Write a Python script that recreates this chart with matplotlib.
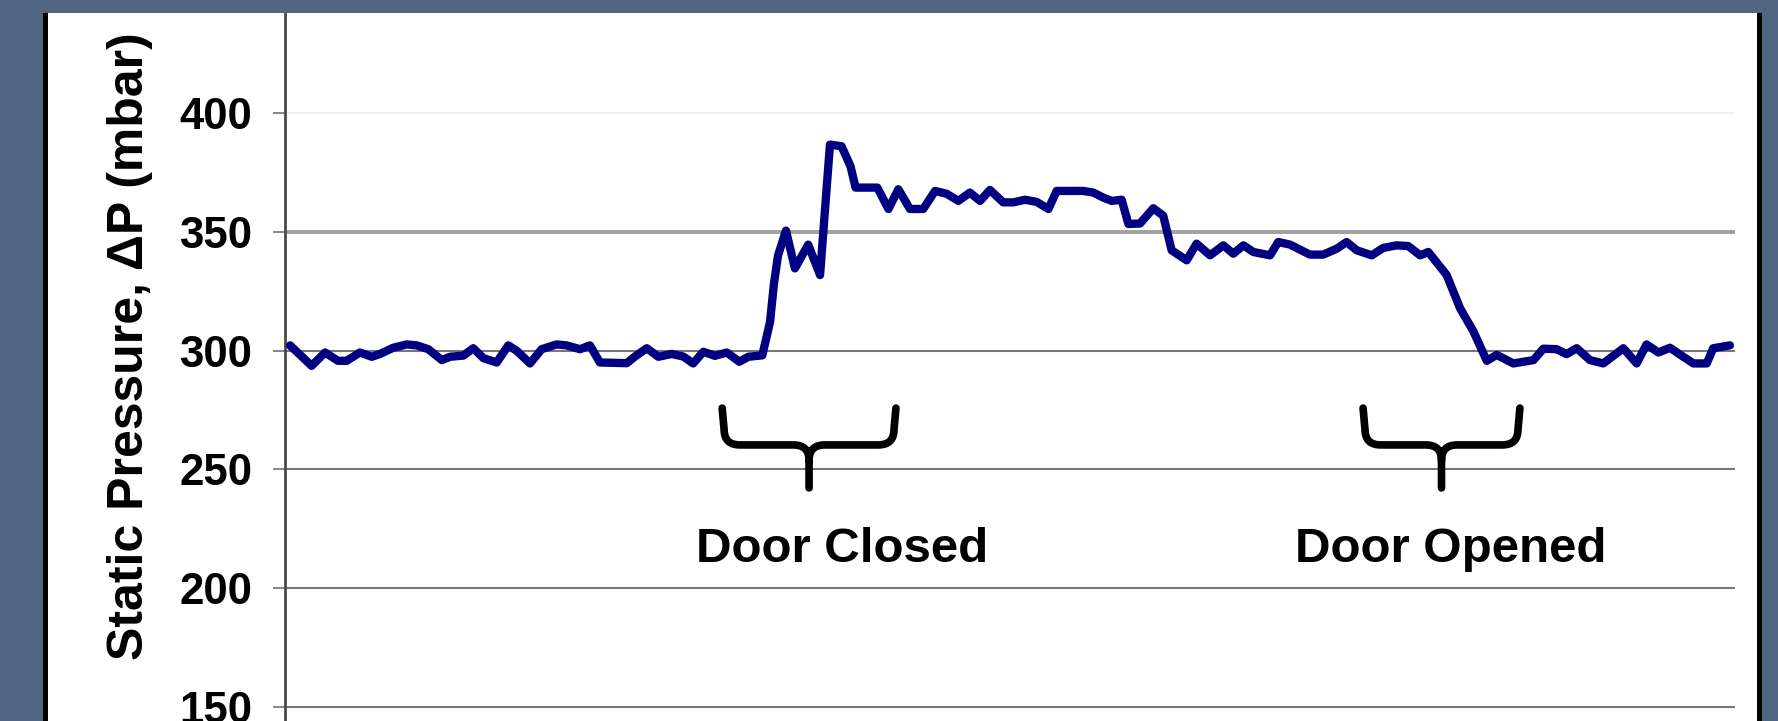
import matplotlib.pyplot as plt
from matplotlib.patches import Rectangle, PathPatch
from matplotlib.path import Path

plt.rcParams['font.family'] = ['Liberation Sans', 'DejaVu Sans']
plt.rcParams['font.weight'] = 'bold'

# time (s) and static pressure (mbar)
time_s = [2.1, 11.0, 16.6, 21.9, 25.5, 31.0, 35.9, 39.3, 44.8, 50.4, 54.5, 59.3,
          64.9, 68.3, 73.8, 77.9, 82.1, 87.6, 92.4, 95.9, 101.4, 106.2, 112.4,
          116.5, 122.1, 126.2, 130.3, 141.4, 144.8, 149.7, 154.5, 160.0, 164.8,
          168.9, 173.1, 177.9, 182.8, 188.0, 191.7, 197.5, 200.7, 202.3, 204.0,
          207.3, 211.0, 216.5, 221.4, 225.5, 230.3, 234.0, 236.1, 245.1, 249.7,
          253.8, 258.6, 264.1, 269.0, 273.8, 278.6, 283.4, 287.6, 291.7, 297.2,
          301.4, 306.2, 311.0, 315.9, 319.3, 330.3, 334.5, 338.6, 342.1, 346.2,
          349.0, 353.8, 359.3, 363.4, 366.9, 373.1, 377.2, 382.8, 388.3, 392.4,
          396.6, 400.7, 407.6, 411.0, 415.9, 424.1, 429.6, 435.2, 439.3, 443.5,
          449.7, 454.4, 460.0, 464.8, 469.7, 473.1, 480.7, 486.2, 491.7, 497.3,
          501.4, 508.3, 516.6, 520.7, 526.2, 530.3, 534.5, 540.0, 545.5, 553.8,
          559.3, 563.4, 568.3, 573.1, 578.6, 582.8, 588.3, 591.0, 597.9]
pressure_mbar = [302.2, 293.6, 299.2, 295.7, 295.7, 299.2, 297.4, 298.6, 301.2,
                 302.6, 302.2, 300.6, 296.0, 297.4, 297.9, 301.0, 296.8, 295.0,
                 302.2, 299.9, 294.6, 300.6, 302.6, 302.2, 300.6, 302.2, 295.0,
                 294.7, 297.5, 301.0, 297.4, 298.6, 297.5, 294.6, 299.5, 297.8,
                 299.2, 295.3, 297.4, 298.0, 312.0, 328.0, 340.0, 350.5, 334.6,
                 344.6, 331.8, 386.7, 386.0, 377.6, 368.6, 368.6, 359.6, 367.9,
                 359.6, 359.6, 367.2, 366.0, 363.0, 366.5, 363.0, 367.6, 362.4,
                 362.4, 363.5, 362.6, 359.6, 367.2, 367.2, 366.5, 364.4, 363.0,
                 363.5, 353.3, 353.5, 359.9, 356.8, 342.2, 338.0, 345.0, 340.1,
                 344.3, 340.8, 344.3, 341.5, 340.1, 345.7, 344.6, 340.4, 340.4,
                 342.9, 345.7, 342.2, 340.1, 343.2, 344.3, 344.0, 340.1, 341.5,
                 331.8, 317.9, 308.2, 295.7, 298.2, 294.6, 296.0, 300.8, 300.6,
                 298.5, 301.0, 296.0, 294.6, 301.0, 294.6, 302.6, 299.2, 301.2,
                 297.4, 294.6, 294.6, 301.0, 302.2]

y_ticks = [100, 150, 200, 250, 300, 350, 400, 450]

events = ["Door Closed", "Door Opened"]
brace_left = [181.7, 446.9]
brace_right = [252.0, 510.2]
event_label_x = [230.5, 482.5]

W, H = 1778, 721
slate = '#506680'
fig = plt.figure(figsize=(W / 100, H / 100), dpi=100)
fig.patch.set_facecolor(slate)

# white panel with black side borders
panel = Rectangle((44.5 / W, -0.05), (1758.5 - 44.5) / W, 1.2, transform=fig.transFigure,
                  facecolor='white', edgecolor='black', linewidth=3.6, zorder=-1)
fig.add_artist(panel)

ax = fig.add_axes([285 / W, (H - 825.8) / H, 1450 / W, 831.6 / H])
ax.set_facecolor('white')

ax.plot(time_s, pressure_mbar, color='#000080', lw=6.0,
        solid_joinstyle='round', solid_capstyle='round', zorder=3)

ax.set_xlim(0, 600)
ax.set_ylim(100, 450)
ax.set_xticks([])
ax.set_yticks(y_ticks)
ax.set_axisbelow(True)
ax.yaxis.grid(True)
for val, gl in zip(y_ticks, ax.yaxis.get_gridlines()):
    if val == 400:
        gl.set(color='#eeeeee', linewidth=1.2)
    elif val == 350:
        gl.set(color='#a0a0a0', linewidth=2.8)
    else:
        gl.set(color='#777777', linewidth=1.5)

for s in ['top', 'right', 'bottom']:
    ax.spines[s].set_visible(False)
ax.spines['left'].set_color('#4a4a4a')
ax.spines['left'].set_linewidth(2.0)
ax.tick_params(axis='y', length=8.6, width=1.1, color='#666666', pad=15, labelsize=31.5)

ax.set_ylabel('Static Pressure, \u0394P (mbar)', fontsize=36, fontweight='bold')
ax.yaxis.set_label_coords(-0.091, 0.577)


def brace(left, right, top=275.8, mid_y=260.3, tip=242.2, r=6.5):
    mid = (left + right) / 2
    verts = [(left - 0.8, top), (left, mid_y + r), (left, mid_y), (left + r, mid_y),
             (mid - r, mid_y), (mid, mid_y), (mid, mid_y - r), (mid, tip),
             (right + 0.8, top), (right, mid_y + r), (right, mid_y), (right - r, mid_y),
             (mid + r, mid_y), (mid, mid_y), (mid, mid_y - r)]
    codes = [Path.MOVETO, Path.LINETO, Path.CURVE3, Path.CURVE3, Path.LINETO,
             Path.CURVE3, Path.CURVE3, Path.LINETO,
             Path.MOVETO, Path.LINETO, Path.CURVE3, Path.CURVE3, Path.LINETO,
             Path.CURVE3, Path.CURVE3]
    return PathPatch(Path(verts, codes), fill=False, edgecolor='black', lw=5.5,
                     capstyle='round', joinstyle='round', clip_on=False, zorder=4)


for name, l, r, tx in zip(events, brace_left, brace_right, event_label_x):
    ax.add_patch(brace(l, r))
    ax.text(tx, 211.0, name, ha='center', va='baseline', fontsize=35.5, fontweight='bold')

# slate band across the top, drawn over the chart
fig.add_artist(Rectangle((0, 1 - 13 / H), 1, 13 / H + 0.01, transform=fig.transFigure,
                         facecolor=slate, edgecolor='none', zorder=10))

fig.savefig('out.png', dpi=100, facecolor=fig.get_facecolor())
